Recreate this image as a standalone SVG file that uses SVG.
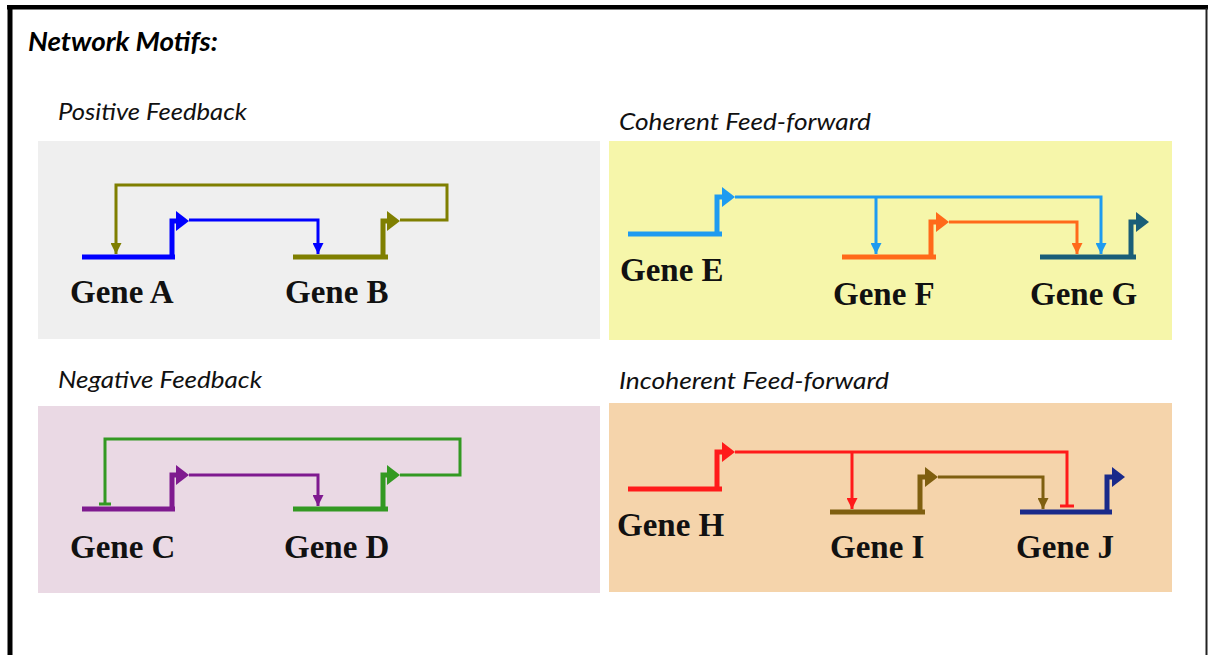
<svg xmlns="http://www.w3.org/2000/svg" width="1208" height="655" viewBox="0 0 1208 655">
<style>
.gene{font-family:"Liberation Serif","Times New Roman",serif;font-weight:bold;font-size:33px;fill:#111}
.title{font-family:Lato,"Liberation Sans",sans-serif;font-style:italic;font-size:24px;fill:#111}
.main{font-family:Lato,"Liberation Sans",sans-serif;font-style:italic;font-weight:bold;font-size:26px;fill:#000}
.g{fill:none;stroke-width:5}
.c{fill:none;stroke-width:3}
</style>
<defs>
<marker id="aBlue" viewBox="0 0 10 10" refX="10" refY="5" markerUnits="userSpaceOnUse" markerWidth="14" markerHeight="11" orient="auto"><path d="M0,0 L10,5 L0,10 z" fill="#0000ff"/></marker>
<marker id="aOlive" viewBox="0 0 10 10" refX="10" refY="5" markerUnits="userSpaceOnUse" markerWidth="14" markerHeight="11" orient="auto"><path d="M0,0 L10,5 L0,10 z" fill="#7f7f00"/></marker>
<marker id="aSky" viewBox="0 0 10 10" refX="10" refY="5" markerUnits="userSpaceOnUse" markerWidth="14" markerHeight="11" orient="auto"><path d="M0,0 L10,5 L0,10 z" fill="#1e9bf0"/></marker>
<marker id="aOrange" viewBox="0 0 10 10" refX="10" refY="5" markerUnits="userSpaceOnUse" markerWidth="14" markerHeight="11" orient="auto"><path d="M0,0 L10,5 L0,10 z" fill="#ff6a1a"/></marker>
<marker id="aPurple" viewBox="0 0 10 10" refX="10" refY="5" markerUnits="userSpaceOnUse" markerWidth="14" markerHeight="11" orient="auto"><path d="M0,0 L10,5 L0,10 z" fill="#7f1a8f"/></marker>
<marker id="aRed" viewBox="0 0 10 10" refX="10" refY="5" markerUnits="userSpaceOnUse" markerWidth="14" markerHeight="11" orient="auto"><path d="M0,0 L10,5 L0,10 z" fill="#ff1a1a"/></marker>
<marker id="aBrown" viewBox="0 0 10 10" refX="10" refY="5" markerUnits="userSpaceOnUse" markerWidth="14" markerHeight="11" orient="auto"><path d="M0,0 L10,5 L0,10 z" fill="#7f5f10"/></marker>
</defs>
<rect width="1208" height="655" fill="#fff"/>
<g id="frame">
<rect x="7" y="5" width="1201" height="4.5" fill="#000"/>
<rect x="7.5" y="5" width="5" height="650" fill="#000"/>
<rect x="1205.5" y="8" width="2" height="647" fill="#222"/>
</g>
<text id="title" class="main" x="28" y="51" textLength="190" lengthAdjust="spacingAndGlyphs">Network Motifs:</text>
<g id="panels">
<rect x="38" y="141" width="562" height="198" fill="#efefef"/>
<rect x="609" y="141" width="563" height="199" fill="#f6f6aa"/>
<rect x="38" y="406" width="562" height="187" fill="#ead9e4"/>
<rect x="609" y="403" width="563" height="189" fill="#f5d4ab"/>
</g>
<g id="panel-titles">
<text class="title" x="58" y="120" textLength="189" lengthAdjust="spacingAndGlyphs">Positive Feedback</text>
<text class="title" x="619" y="130" textLength="252" lengthAdjust="spacingAndGlyphs">Coherent Feed-forward</text>
<text class="title" x="58" y="388" textLength="204" lengthAdjust="spacingAndGlyphs">Negative Feedback</text>
<text class="title" x="619" y="389" textLength="270" lengthAdjust="spacingAndGlyphs">Incoherent Feed-forward</text>
</g>
<g id="geneA">
<path class="g" stroke="#0000ff" d="M82 257 H175 M172 257 V221 H178"/>
<polygon points="176,211 189,221 176,231" fill="#0000ff"/>
<text class="gene" x="70" y="303">Gene A</text>
</g>
<g id="geneB">
<path class="g" stroke="#7f7f00" d="M293 257 H388 M383 257 V221 H389"/>
<polygon points="387,211 400,221 387,231" fill="#7f7f00"/>
<text class="gene" x="285" y="303">Gene B</text>
</g>
<g id="geneE">
<path class="g" stroke="#1e9bf0" d="M628 234 H722 M717 234 V197 H723"/>
<polygon points="722,187 735,197 722,207" fill="#1e9bf0"/>
<text class="gene" x="620" y="281">Gene E</text>
</g>
<g id="geneF">
<path class="g" stroke="#ff6a1a" d="M842 257 H936 M931 257 V222 H937"/>
<polygon points="936,212 949,222 936,232" fill="#ff6a1a"/>
<text class="gene" x="833" y="305">Gene F</text>
</g>
<g id="geneG">
<path class="g" stroke="#1a5e78" d="M1040 257 H1136 M1131 257 V222 H1137"/>
<polygon points="1136,212 1149,222 1136,232" fill="#1a5e78"/>
<text class="gene" x="1030" y="305">Gene G</text>
</g>
<g id="geneC">
<path class="g" stroke="#7f1a8f" d="M82 509 H175 M172 509 V475 H178"/>
<polygon points="176,465 189,475 176,485" fill="#7f1a8f"/>
<text class="gene" x="70" y="558">Gene C</text>
</g>
<g id="geneD">
<path class="g" stroke="#339922" d="M293 509 H388 M383 509 V475 H389"/>
<polygon points="387,465 400,475 387,485" fill="#339922"/>
<text class="gene" x="284" y="558">Gene D</text>
</g>
<g id="geneH">
<path class="g" stroke="#ff1a1a" d="M628 489 H722 M717 489 V452 H723"/>
<polygon points="722,442 735,452 722,462" fill="#ff1a1a"/>
<text class="gene" x="617" y="536">Gene H</text>
</g>
<g id="geneI">
<path class="g" stroke="#7f5f10" d="M830 512 H925 M920 512 V477 H926"/>
<polygon points="925,467 938,477 925,487" fill="#7f5f10"/>
<text class="gene" x="830" y="558">Gene I</text>
</g>
<g id="geneJ">
<path class="g" stroke="#1a2a8a" d="M1020 512 H1112 M1107 512 V477 H1113"/>
<polygon points="1112,467 1125,477 1112,487" fill="#1a2a8a"/>
<text class="gene" x="1016" y="558">Gene J</text>
</g>
<g id="connectors">
<path class="c" stroke="#0000ff" d="M189 220 H318 V254" marker-end="url(#aBlue)"/>
<path class="c" stroke="#7f7f00" d="M400 220 H447 V185 H116 V254" marker-end="url(#aOlive)"/>
<path class="c" stroke="#1e9bf0" d="M735 197 H1101 V254" marker-end="url(#aSky)"/>
<path class="c" stroke="#1e9bf0" d="M876 197 V254" marker-end="url(#aSky)"/>
<path class="c" stroke="#ff6a1a" d="M949 222 H1077 V254" marker-end="url(#aOrange)"/>
<path class="c" stroke="#7f1a8f" d="M189 475 H318 V506" marker-end="url(#aPurple)"/>
<path class="c" stroke="#339922" d="M400 475 H460 V439 H105 V504 M99 504 H111"/>
<path class="c" stroke="#ff1a1a" d="M735 452 H1067 V506 M1060 506 H1074"/>
<path class="c" stroke="#ff1a1a" d="M852 452 V509" marker-end="url(#aRed)"/>
<path class="c" stroke="#7f5f10" d="M938 477 H1043 V509" marker-end="url(#aBrown)"/>
</g>
</svg>
